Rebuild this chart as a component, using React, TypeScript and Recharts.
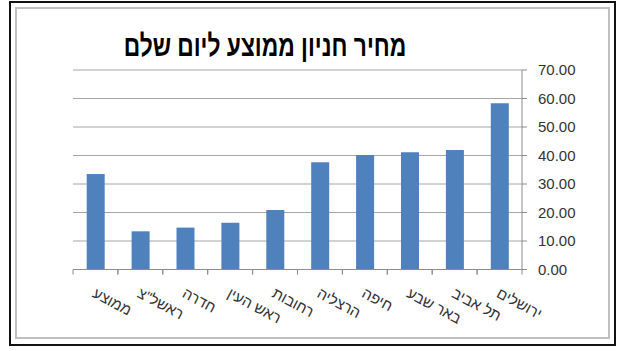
import React from "react";
import { BarChart, Bar, XAxis, YAxis, CartesianGrid } from "recharts";

const categories = ["ירושלים", "תל אביב", "באר שבע", "חיפה", "הרצליה", "רחובות", "ראש העין", "חדרה", "ראשל\"צ", "ממוצע"];
const prices = [58.3, 41.9, 41.1, 40.2, 37.6, 20.9, 16.4, 14.7, 13.4, 33.5];
const yTicks = [0, 10, 20, 30, 40, 50, 60, 70];
const title = "מחיר חניון ממוצע ליום שלם";

const data = categories.map((c, i) => ({ name: c, value: prices[i] }));

const W = 621;
const H = 351;
const M = { top: 70, right: 39, bottom: 21.5, left: 73 };
const Y_AXIS_W = 60;
const X_AXIS_H = 60;
const PLOT_W = W - M.left - M.right - Y_AXIS_W;
const SLOT = PLOT_W / categories.length;
const FONT = "'Liberation Sans', Arial, 'DejaVu Sans', sans-serif";
const AXIS_COLOR = "#8c8c8c";

const XTick = (props: any) => {
  const { x, y, payload } = props;
  const half = SLOT / 2;
  const tx = x - 4;
  const ty = y + 27;
  return (
    <g>
      <line x1={x - half} x2={x - half} y1={y} y2={y + 5} stroke={AXIS_COLOR} />
      <line x1={x + half} x2={x + half} y1={y} y2={y + 5} stroke={AXIS_COLOR} />
      <text
        x={tx}
        y={ty}
        transform={`rotate(28, ${tx}, ${ty})`}
        textAnchor="start"
        fontSize={15}
        fontFamily={FONT}
        fill="#333"
      >
        {payload.value}
      </text>
    </g>
  );
};

export default function App() {
  return (
    <div style={{ position: "absolute", left: 0, top: 0, width: W, height: H, background: "#fff" }}>
      <div
        style={{
          position: "absolute",
          left: 9,
          top: 1,
          width: 603,
          height: 341,
          border: "2px solid #111",
        }}
      />
      <div
        style={{
          position: "absolute",
          left: 15,
          top: 7,
          width: 591,
          height: 328,
          border: "2px solid #c0c0c0",
        }}
      />
      <div style={{ position: "absolute", left: 0, top: 0 }}>
        <BarChart width={W} height={H} data={data} margin={M} barCategoryGap="30.5%">
          <CartesianGrid vertical={false} stroke="#a6a6a6" />
          <XAxis
            dataKey="name"
            reversed
            height={X_AXIS_H}
            interval={0}
            tickSize={0}
            tickMargin={0}
            tickLine={false}
            axisLine={{ stroke: AXIS_COLOR }}
            tick={<XTick />}
          />
          <YAxis
            orientation="right"
            width={Y_AXIS_W}
            domain={[0, 70]}
            ticks={yTicks}
            interval={0}
            tickSize={5}
            tickMargin={11}
            tickFormatter={(v: number) => v.toFixed(2)}
            axisLine={{ stroke: AXIS_COLOR }}
            tickLine={{ stroke: AXIS_COLOR }}
            tick={{ fontSize: 15, fontFamily: FONT, fill: "#333", textAnchor: "start" }}
          />
          <Bar dataKey="value" fill="#4f81bd" isAnimationActive={false} />
        </BarChart>
      </div>
      <svg width={W} height={H} style={{ position: "absolute", left: 0, top: 0, pointerEvents: "none" }}>
        <g transform="translate(265, 56) scale(0.76, 1)">
          <text x={0} y={0} textAnchor="middle" fontSize={30} fontWeight="bold" fontFamily={FONT} fill="#000">
            {title}
          </text>
        </g>
      </svg>
    </div>
  );
}
